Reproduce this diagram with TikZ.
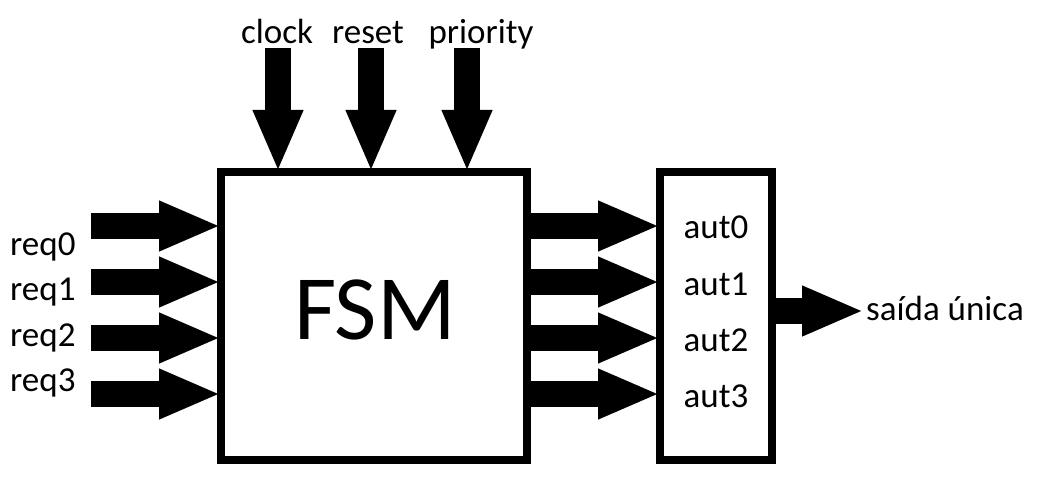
\documentclass[tikz,border=0pt]{standalone}
\usepackage{fontspec}
\setmainfont{Carlito}
\usetikzlibrary{arrows.meta}

\begin{document}
\begin{tikzpicture}[x=1pt,y=-1pt,
		bigarrow/.style={line width=26pt,-{Triangle[length=62pt,width=46pt]}},
		blockbox/.style={draw,line width=8pt,inner sep=0pt,outer sep=0pt},
		lbl/.style={font=\fontsize{35}{42}\selectfont,inner sep=0pt}]
			\useasboundingbox (0,0) rectangle (1043,486);
			\node[blockbox,minimum width=306pt,minimum height=288pt] (fsm) at (374,316) {};
			\node[font=\fontsize{92}{100}\selectfont,inner sep=0pt] (fsmtxt) at (375,310) {FSM};
			\node[blockbox,minimum width=112pt,minimum height=288pt] (sel) at (716,316) {};
			\foreach \ax/\lx/\t in {278/277/clock,371/368/reset,467/481/priority}{
				\coordinate (top\t) at (\ax,48);
				\draw[bigarrow] (top\t) -- (top\t |- fsm.north);
				\node[lbl,anchor=base] (lbl\t) at (\lx,44) {\t};
			}
			\foreach \i/\y/\b in {0/226/255,1/282/300,2/338/346,3/394/391}{
				\coordinate (in\i) at (91,\y);
				\draw[bigarrow] (in\i) -- (in\i -| fsm.west);
				\node[lbl,anchor=base west] (req\i) at (10,\b) {req\i};
				\draw[bigarrow] (in\i -| fsm.east) -- (in\i -| sel.west);
				\node[lbl,anchor=base] (aut\i) at (716,\y+13) {aut\i};
			}
			\coordinate (outtip) at (864,311);
			\draw[bigarrow] (sel.east |- outtip) -- (outtip);
			\node[lbl,anchor=base west] (saida) at (866,320) {saída única};
		\end{tikzpicture}
\end{document}
